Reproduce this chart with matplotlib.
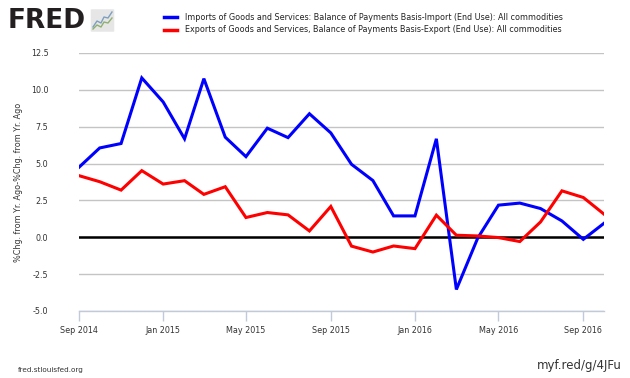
import numpy as np
import pandas as pd
import matplotlib
matplotlib.use('Agg')
import matplotlib.pyplot as plt
import matplotlib.dates as mdates
from matplotlib.patches import FancyBboxPatch

IMPORT_LABEL = 'Imports of Goods and Services: Balance of Payments Basis-Import (End Use): All commodities'
EXPORT_LABEL = 'Exports of Goods and Services, Balance of Payments Basis-Export (End Use): All commodities'

months = pd.date_range('2014-09-01', periods=26, freq='MS')
imports = [4.75, 6.06, 6.36, 10.81, 9.18, 6.68, 10.76, 6.79, 5.47, 7.40, 6.76, 8.38, 7.08,
           4.95, 3.85, 1.45, 1.45, 6.68, -3.54, -0.05, 2.18, 2.32, 1.95, 1.11, -0.14, 0.95]
exports = [4.18, 3.77, 3.20, 4.52, 3.61, 3.84, 2.91, 3.43, 1.34, 1.68, 1.52, 0.43, 2.09,
           -0.60, -1.00, -0.59, -0.77, 1.50, 0.14, 0.09, -0.02, -0.29, 1.04, 3.15, 2.70, 1.57]
y_ticks = [-5.0, -2.5, 0.0, 2.5, 5.0, 7.5, 10.0, 12.5]
x_ticks = pd.to_datetime(['2014-09-01', '2015-01-01', '2015-05-01', '2015-09-01',
                          '2016-01-01', '2016-05-01', '2016-09-01'])

plt.rcParams['font.family'] = ['DejaVu Sans']
fig = plt.figure(figsize=(6.3, 3.78), dpi=100)
ax = fig.add_axes([79 / 630, 1 - 311 / 378, 525 / 630, 258 / 378])

for v in y_ticks:
    ax.axhline(v, color='#c4c4c4', lw=1.0, zorder=1)
ax.axhline(0, color='black', lw=1.8, zorder=2)
ax.plot(months, imports, color='#0000ff', lw=2.2, zorder=3, solid_joinstyle='miter')
ax.plot(months, exports, color='#ff0000', lw=2.2, zorder=3, solid_joinstyle='miter')

ax.set_xlim(months[0], months[-1])
ax.set_ylim(-5.0, 12.5)
ax.set_yticks(y_ticks)
ax.set_yticklabels(['%.1f' % v for v in y_ticks])
ax.set_xticks(x_ticks)
ax.xaxis.set_major_formatter(mdates.DateFormatter('%b %Y'))
for s in ['top', 'right', 'left']:
    ax.spines[s].set_visible(False)
ax.spines['bottom'].set_color('#c0cad8')
ax.spines['bottom'].set_linewidth(1.0)
ax.spines['bottom'].set_zorder(0)
ax.tick_params(axis='y', length=0, pad=22, labelsize=5.8, labelcolor='#333333')
ax.tick_params(axis='x', length=7, width=1, color='#c0cad8', pad=4, labelsize=5.8,
               labelcolor='#333333')
ax.set_ylabel('%Chg. from Yr. Ago-%Chg. from Yr. Ago', fontsize=5.8, color='#333333')
ax.yaxis.set_label_coords(-0.107, 0.5)

# legend
fig.lines.append(plt.Line2D([164 / 630, 177 / 630], [1 - 17 / 378] * 2, color='#0000ff', lw=2.5,
                            transform=fig.transFigure))
fig.lines.append(plt.Line2D([164 / 630, 177 / 630], [1 - 30 / 378] * 2, color='#ff0000', lw=2.5,
                            transform=fig.transFigure))
fig.text(185 / 630, 1 - 17 / 378, IMPORT_LABEL, fontsize=5.8, va='center', color='#222222')
fig.text(185 / 630, 1 - 30 / 378, EXPORT_LABEL, fontsize=5.8, va='center', color='#222222')

# FRED logo
fig.text(8 / 630, 1 - 21 / 378, 'FRED', fontsize=19, fontweight='bold', va='center',
         color='#231f20')
fig.patches.append(FancyBboxPatch((92 / 630, 1 - 31 / 378), 21 / 630, 21 / 378,
                                  boxstyle='round,pad=0.002', fc='#e6e6e6', ec='none',
                                  transform=fig.transFigure))
fig.lines.append(plt.Line2D(np.array([93, 97, 101, 104, 108, 112]) / 630,
                            1 - np.array([27, 21, 23, 17, 18, 12]) / 378, color='#7f9fc0',
                            lw=1, transform=fig.transFigure))
fig.lines.append(plt.Line2D(np.array([93, 97, 101, 104, 108, 112]) / 630,
                            1 - np.array([29, 25, 27, 22, 23, 18]) / 378, color='#8fb070',
                            lw=1, transform=fig.transFigure))

fig.text(18 / 630, 1 - 370 / 378, 'fred.stlouisfed.org', fontsize=5.2, va='center',
         color='#333333')
fig.text(622 / 630, 1 - 366 / 378, 'myf.red/g/4JFu', fontsize=8.5, va='center', ha='right',
         color='#333333')

fig.savefig('out.png', dpi=100)
